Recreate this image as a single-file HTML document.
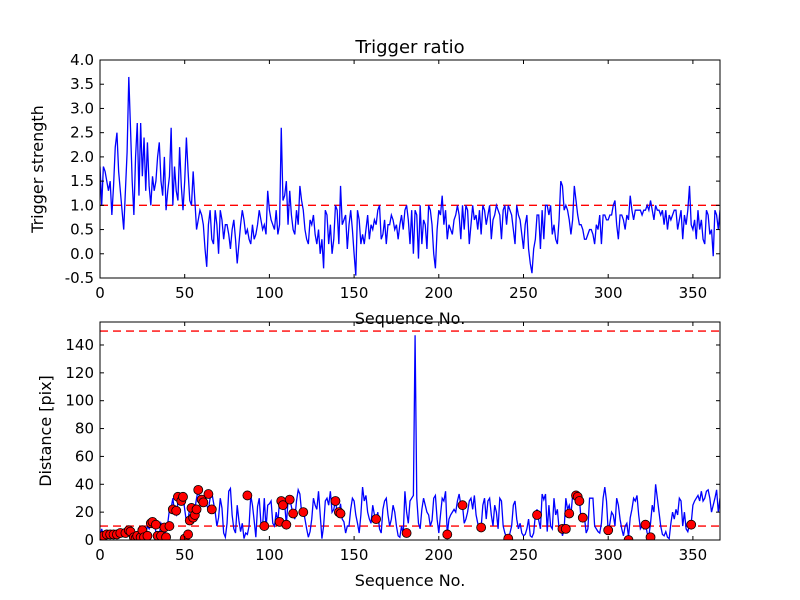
<!DOCTYPE html>
<html><head><meta charset="utf-8"><style>
body{margin:0;background:#fff;}
svg{display:block;font-family:"DejaVu Sans","Liberation Sans",sans-serif;}
</style></head><body>
<svg id="fig" width="800" height="600" viewBox="0 0 800 600"></svg>
<script>
const topSeq = [1.8,1.0,1.8,1.7,1.5,1.3,1.5,0.8,1.4,2.2,2.5,1.7,1.3,0.9,0.5,1.3,2.1,3.65,2.6,1.5,
0.8,2.0,2.7,1.2,2.7,1.6,2.4,1.3,2.3,1.4,1.0,1.6,1.3,1.5,2.0,2.3,1.5,1.2,2.0,0.9,
1.3,1.6,2.6,1.0,1.8,1.3,1.1,2.2,1.4,0.9,1.5,2.4,1.7,1.1,1.0,1.7,1.1,0.5,0.7,0.9,
0.8,0.6,0.1,-0.27,0.6,0.9,0.3,0.2,0.9,0.6,0.0,0.9,0.7,0.3,0.6,0.6,0.4,0.1,0.5,0.7,
0.3,-0.2,0.2,0.6,0.9,0.7,0.4,0.5,0.3,0.2,0.6,0.3,0.4,0.6,0.9,0.7,0.5,0.6,0.4,1.3,
0.9,0.7,0.6,0.5,0.9,0.4,0.6,2.6,1.1,1.2,1.5,0.6,1.3,0.8,0.5,0.4,0.9,0.6,1.4,1.1,
0.9,0.5,0.3,0.2,0.7,0.6,0.8,0.4,0.2,0.5,0.0,0.3,-0.3,0.9,0.8,0.2,0.6,0.0,0.3,1.0,
0.9,0.2,1.4,0.6,0.7,0.8,0.1,0.6,0.9,0.5,0.0,-0.45,0.9,0.7,0.2,0.4,0.2,0.5,0.8,0.3,
0.6,0.5,0.7,0.6,0.9,1.0,0.3,0.4,0.7,0.2,0.6,0.6,0.8,0.7,0.5,0.6,0.3,0.6,0.8,0.5,
0.9,1.0,0.7,0.2,0.9,0.0,0.9,0.8,-0.1,1.0,0.2,0.7,0.6,0.1,1.0,0.9,0.6,0.0,-0.3,0.5,
0.9,0.8,1.2,0.6,0.9,0.3,0.6,0.5,0.4,0.7,0.8,1.0,0.8,0.3,1.0,0.5,1.0,0.9,0.2,0.6,
1.0,0.7,0.8,0.5,0.9,0.4,1.0,0.9,0.6,0.8,1.0,0.3,0.7,0.8,1.0,0.9,0.8,0.3,0.9,1.0,
0.6,1.0,0.9,0.8,0.5,0.2,1.0,0.8,0.7,0.4,0.1,0.6,0.8,0.1,-0.2,-0.4,0.1,0.3,0.8,0.8,
0.1,0.9,0.3,1.0,1.0,0.8,1.0,0.4,0.6,0.3,0.2,0.7,1.5,1.4,0.9,1.0,0.9,0.7,0.4,0.7,
1.4,1.1,0.8,0.6,0.6,0.5,0.3,0.3,0.4,0.5,0.5,0.4,0.2,0.6,0.5,0.8,0.2,0.8,0.8,0.7,
0.7,0.8,0.8,1.0,1.1,0.6,0.3,0.8,0.8,0.7,0.5,0.8,0.7,1.2,0.9,0.7,0.9,0.9,0.9,0.9,
0.8,0.9,0.9,1.0,0.9,1.1,0.9,0.7,1.0,0.9,0.9,0.8,0.9,0.6,0.9,0.5,0.8,0.7,0.8,0.9,
0.9,0.5,0.7,0.9,0.3,0.8,0.6,0.9,1.4,0.6,0.5,0.7,0.3,0.9,0.5,0.7,0.3,0.2,0.9,0.8,
0.4,0.5,-0.05,0.9,0.8,0.5,0.9];
const distSeq = [2,8,3,4,6,3,4,2,5,3,4,7,4,5,3,5,7,6,4,2,
1,3,2,6,2,7,2,4,10,8,12,13,11,6,3,4,12,9,3,8,
12,22,23,30,20,18,27,31,28,32,22,13,15,23,25,19,22,30,36,28,
27,30,33,25,22,30,34,27,20,10,16,30,23,5,2,12,35,37,18,8,
5,25,14,6,12,1,5,4,10,32,25,14,2,24,30,12,10,30,8,25,
26,28,12,10,20,13,28,30,25,26,11,28,30,24,18,15,28,36,33,20,
21,15,8,2,6,15,30,25,22,35,18,1,10,28,30,25,35,20,22,28,
20,19,26,15,13,5,10,10,22,30,28,18,12,5,18,38,28,32,20,15,
12,25,18,15,20,8,5,22,28,30,18,10,15,25,20,10,3,2,10,4,
35,20,12,28,30,32,147,30,12,8,22,30,25,20,18,10,14,30,32,15,
5,18,30,28,35,4,15,18,20,22,20,28,33,25,25,12,15,20,28,30,
22,32,18,12,8,9,25,30,15,28,30,18,10,25,20,8,30,28,10,5,
2,1,5,10,25,28,15,8,12,5,3,4,8,15,3,2,5,18,22,14,
8,33,29,33,6,25,10,8,30,18,22,8,10,3,8,30,22,25,18,32,
31,28,32,30,14,16,16,5,8,30,30,30,10,8,6,5,12,30,38,28,
6,12,20,18,10,30,25,15,8,3,10,12,2,16,22,30,28,32,18,8,
10,8,12,5,3,12,25,20,40,30,20,10,4,3,6,2,1,12,20,15,
22,18,30,28,10,20,8,6,11,12,25,28,30,32,28,35,28,30,35,36,
30,20,25,30,36,20,30];
const dotX = [2,4,6,8,10,12,15,17,18,20,21,22,24,25,26,28,30,31,33,34,36,38,39,41,43,45,46,48,49,50,52,53,54,55,56,57,58,60,61,64,66,87,97,106,107,108,110,112,114,120,139,141,142,163,181,205,214,225,241,258,273,275,277,281,282,283,285,300,312,322,325,349];
const dotY = [3,4,4,4,4,5,5,7,6,2,1,3,2,7,2,3,12,13,11,3,3,9,2,10,22,21,31,28,31,1,4,14,23,16,18,22,36,29,27,33,22,32,10,13,28,25,11,29,19,20,28,20,19,15,5,4,25,9,1,18,8,8,19,32,31,28,16,7,0,11,2,11];
const xTicks = [0,50,100,150,200,250,300,350];
const topYTicks = ["-0.5","0.0","0.5","1.0","1.5","2.0","2.5","3.0","3.5","4.0"];
const botYTicks = [0,20,40,60,80,100,120,140];
const topThresh = [1.0];
const botThresh = [10,150];

const NS="http://www.w3.org/2000/svg";
const svg=document.getElementById('fig');
function mk(tag,attrs,parent){const e=document.createElementNS(NS,tag);for(const k in attrs)e.setAttribute(k,attrs[k]);(parent||svg).appendChild(e);return e;}
const L=100,R=720;
const XMAX=366;
const sx=v=>L+(v/XMAX)*(R-L);
const tT=60,tB=278,tMin=-0.5,tMax=4.0;
const syT=v=>tB-(v-tMin)/(tMax-tMin)*(tB-tT);
const bT=322,bB=540,bMin=0,bMax=156.5;
const syB=v=>bB-(v-bMin)/(bMax-bMin)*(bB-bT);

function axes(name,top,bot,yTicks,sy,ylabel,ylabX){
  const g=mk('g',{});
  
  
  xTicks.forEach(t=>{
    const x=sx(t);
    mk('line',{x1:x,x2:x,y1:bot,y2:bot-4,stroke:'#000'},g);
    mk('line',{x1:x,x2:x,y1:top,y2:top+4,stroke:'#000'},g);
    const tx=mk('text',{x:x,y:bot+20,'font-size':15,'text-anchor':'middle'},g);
    tx.textContent=t;
    
    
  });
  yTicks.forEach(t=>{
    const y=sy(parseFloat(t));
    mk('line',{x1:L,x2:L+4,y1:y,y2:y,stroke:'#000'},g);
    mk('line',{x1:R,x2:R-4,y1:y,y2:y,stroke:'#000'},g);
    const tx=mk('text',{x:L-6,y:y+5,'font-size':15,'text-anchor':'end'},g);
    tx.textContent=t;
    
    
  });
  const xl=mk('text',{x:410,y:bot+46,'font-size':16,'text-anchor':'middle'},g);
  xl.textContent='Sequence No.';
  
  
  const yl=mk('text',{x:ylabX,y:(top+bot)/2,'font-size':16,'text-anchor':'middle',transform:`rotate(-90 ${ylabX} ${(top+bot)/2})`},g);
  yl.textContent=ylabel;
  
  
  return g;
}

const gt=mk('g',{});


const cp1=mk('clipPath',{id:'c1'});mk('rect',{x:L,y:tT,width:R-L,height:tB-tT},cp1);
topThresh.forEach(v=>{
  const l=mk('line',{x1:L,x2:R,y1:syT(v),y2:syT(v),stroke:'#ff0000','stroke-width':1.3,'stroke-dasharray':'8,5'},gt);
  
  
});
const p1=mk('polyline',{points:topSeq.map((v,i)=>sx(i)+','+syT(v)).join(' '),fill:'none',stroke:'#0000ff','stroke-width':1.3,'clip-path':'url(#c1)'},gt);


mk('rect',{x:L,y:tT,width:R-L,height:tB-tT,fill:'none',stroke:'#000'},gt);
axes('trigger-axes',tT,tB,topYTicks,syT,'Trigger strength',43);
const ti=mk('text',{x:410,y:53,'font-size':18,'text-anchor':'middle'});
ti.textContent='Trigger ratio';



const gb=mk('g',{});


const cp2=mk('clipPath',{id:'c2'});mk('rect',{x:L,y:bT,width:R-L,height:bB-bT},cp2);
botThresh.forEach(v=>{
  const l=mk('line',{x1:L,x2:R,y1:syB(v),y2:syB(v),stroke:'#ff0000','stroke-width':1.3,'stroke-dasharray':'8,5'},gb);
  
  
});
const p2=mk('polyline',{points:distSeq.map((v,i)=>sx(i)+','+syB(v)).join(' '),fill:'none',stroke:'#0000ff','stroke-width':1.3,'clip-path':'url(#c2)'},gb);


const gd=mk('g',{'clip-path':'url(#c2)'},gb);
dotX.forEach((x,i)=>{
  const c=mk('circle',{cx:sx(x),cy:syB(dotY[i]),r:4.5,fill:'#ff0000',stroke:'#000','stroke-width':0.8},gd);
  
  
});
mk('rect',{x:L,y:bT,width:R-L,height:bB-bT,fill:'none',stroke:'#000'},gb);
axes('distance-axes',bT,bB,botYTicks.map(String),syB,'Distance [pix]',51);
</script>
</body></html>
